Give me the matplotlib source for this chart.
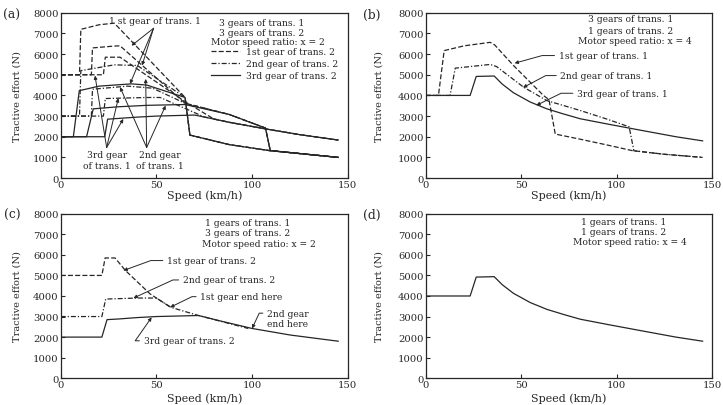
import matplotlib
matplotlib.use('Agg')
import matplotlib.pyplot as plt

plt.rcParams['font.family'] = 'DejaVu Serif'
plt.rcParams['lines.scale_dashes'] = False

INK = '#262626'
DASH = (0, (3.6, 1.6))
DASHDOT = (0, (3.6, 1.4, 0.9, 1.4))

####### PANEL (a): 3 gears of trans. 1, 3 gears of trans. 2, x = 2
# dashed = 1st gear of trans. 2
a_d1_v = [0, 9.8, 10.5, 20, 28, 65, 67.5, 88, 109, 145]
a_d1_F = [5000, 5000, 7200, 7420, 7500, 3900, 2080, 1620, 1330, 1000]
a_d2_v = [0, 16, 16.6, 28, 31, 65, 88, 107, 109.5, 145]
a_d2_F = [5000, 5000, 6300, 6390, 6400, 3620, 3080, 2420, 1330, 1000]
a_d3_v = [0, 22.3, 23.3, 31, 65, 80, 88, 107, 125, 145]
a_d3_F = [5000, 5000, 5850, 5850, 3700, 2860, 2700, 2380, 2100, 1840]
# dash-dot = 2nd gear of trans. 2
a_m1_v = [0, 9.8, 10.5, 28, 40, 65, 67.5, 88, 109, 145]
a_m1_F = [3000, 3000, 5200, 5480, 5450, 3900, 2080, 1620, 1330, 1000]
a_m2_v = [0, 16, 16.6, 35, 48, 65, 88, 107, 109.5, 145]
a_m2_F = [3000, 3000, 4300, 4450, 4350, 3620, 3080, 2420, 1330, 1000]
a_m3_v = [0, 22.3, 23.3, 45, 52, 75, 88, 107, 125, 145]
a_m3_F = [3000, 3000, 3850, 3900, 3900, 2960, 2700, 2380, 2100, 1840]
# solid = 3rd gear of trans. 2
a_s1_v = [0, 6.6, 9.7, 20, 37, 45, 65, 67.5, 88, 109, 145]
a_s1_F = [2000, 2000, 4230, 4450, 4560, 4500, 3900, 2080, 1620, 1330, 1000]
a_s2_v = [0, 13.5, 17, 30, 45, 65, 88, 107, 109.5, 145]
a_s2_F = [2000, 2000, 3350, 3450, 3520, 3560, 3080, 2420, 1330, 1000]
a_s3_v = [0, 23, 24.5, 40, 50, 70, 88, 107, 125, 145]
a_s3_F = [2000, 2000, 2850, 2950, 3000, 3050, 2700, 2380, 2100, 1840]

####### PANEL (b): 3 gears of trans. 1, 1 gear of trans. 2, x = 4
b_d_v = [0, 6.6, 9.6, 20, 33.7, 36, 45.9, 61.7, 64.5, 67.8, 80.9, 95, 108, 125, 145]
b_d_F = [4000, 4000, 6170, 6400, 6570, 6450, 5450, 3990, 3800, 2130, 1880, 1600, 1330, 1150, 1000]
b_m_v = [0, 12.7, 15.4, 33.7, 37, 51.2, 63.4, 80.9, 95, 106.5, 109, 125, 145]
b_m_F = [4000, 4000, 5320, 5500, 5400, 4400, 3750, 3270, 2850, 2480, 1320, 1150, 1000]
# single curve, also panel (d)
one_v = [0, 23.2, 26.4, 35.8, 40, 45.9, 54.7, 63.4, 72.2, 80.9, 96, 114, 131, 145]
one_F = [4000, 4000, 4920, 4940, 4550, 4130, 3680, 3350, 3100, 2870, 2600, 2290, 2000, 1800]

####### PANEL (c): 1 gear of trans. 1, 3 gears of trans. 2, x = 2
c_d_v = [0, 21.5, 23.2, 28.4, 33.7, 46.7, 57.5]
c_d_F = [5000, 5000, 5850, 5850, 5250, 4100, 3450]
c_m_v = [0, 21.5, 23.5, 40, 50, 57.5, 72, 98]
c_m_F = [3000, 3000, 3850, 3900, 3900, 3450, 3050, 2420]
c_s_v = [0, 21.5, 24.2, 30, 40, 50, 72, 85, 100, 120, 145]
c_s_F = [2000, 2000, 2850, 2880, 2950, 3000, 3050, 2750, 2420, 2100, 1800]

TXT = 6.6


def style(ax, ylab_x, xlab_y):
    ax.set_xlim(0, 150)
    ax.set_ylim(0, 8000)
    ax.set_xticks([0, 50, 100, 150])
    ax.set_yticks(range(0, 8001, 1000))
    ax.tick_params(direction='in', length=3, width=0.8, labelsize=7.2,
                   pad=1.5, colors=INK)
    for s in ax.spines.values():
        s.set_linewidth(0.9)
        s.set_color(INK)
    ax.set_xlabel('Speed (km/h)', fontsize=8, color=INK)
    ax.xaxis.set_label_coords(0.5, xlab_y)
    ax.set_ylabel('Tractive effort (N)', fontsize=7, color=INK)
    ax.yaxis.set_label_coords(ylab_x, 0.5)


def header(ax, lines):
    for x, y, s in lines:
        ax.text(x, y, s, fontsize=TXT, color=INK, va='center', ha='left')


def hook(ax, text, xytext, xy, angle, relpos=(0, 0.5)):
    ax.annotate(text, xy=xy, xytext=xytext, fontsize=TXT, color=INK,
                va='center', ha='left',
                arrowprops=dict(arrowstyle='-|>', mutation_scale=5, lw=0.7,
                                color=INK, relpos=relpos, shrinkA=1, shrinkB=0,
                                connectionstyle='angle,angleA=0,angleB=%g,rad=0' % angle))


fig = plt.figure(figsize=(7.23, 4.06), dpi=100)
ax_a = fig.add_axes([0.084, 0.559, 0.397, 0.407])
ax_b = fig.add_axes([0.589, 0.559, 0.396, 0.407])
ax_c = fig.add_axes([0.084, 0.066, 0.397, 0.405])
ax_d = fig.add_axes([0.589, 0.066, 0.396, 0.405])

for x, y, s in [(0.0166, 0.963, '(a)'), (0.5145, 0.963, '(b)'),
                (0.0166, 0.470, '(c)'), (0.5145, 0.470, '(d)')]:
    fig.text(x, y, s, fontsize=8.8, color=INK, ha='center', va='center')

# ---- (a)
kw = dict(color=INK, lw=0.9)
l1, = ax_a.plot(a_d1_v, a_d1_F, ls=DASH, label='1st gear of trans. 2', **kw)
ax_a.plot(a_d2_v, a_d2_F, ls=DASH, **kw)
ax_a.plot(a_d3_v, a_d3_F, ls=DASH, **kw)
l2, = ax_a.plot(a_m1_v, a_m1_F, ls=DASHDOT, label='2nd gear of trans. 2', **kw)
ax_a.plot(a_m2_v, a_m2_F, ls=DASHDOT, **kw)
ax_a.plot(a_m3_v, a_m3_F, ls=DASHDOT, **kw)
l3, = ax_a.plot(a_s1_v, a_s1_F, ls='-', label='3rd gear of trans. 2', **kw)
ax_a.plot(a_s2_v, a_s2_F, ls='-', **kw)
ax_a.plot(a_s3_v, a_s3_F, ls='-', **kw)
style(ax_a, -0.137, -0.07)
header(ax_a, [(82.8, 7545, '3 gears of trans. 1'),
              (82.8, 7060, '3 gears of trans. 2'),
              (78.3, 6607, 'Motor speed ratio: x = 2')])
ax_a.legend(handles=[l1, l2, l3], loc='upper left', bbox_to_anchor=(78.3, 6330),
            bbox_transform=ax_a.transData, frameon=False, fontsize=TXT,
            handlelength=3.2, handletextpad=0.65, labelspacing=0.3,
            borderpad=0, borderaxespad=0, labelcolor=INK)

arrow = dict(arrowstyle='-|>', mutation_scale=5, lw=0.7, color=INK, shrinkA=0, shrinkB=0)
ax_a.text(49, 7650, '1 st gear of trans. 1', fontsize=TXT, color=INK, ha='center', va='center')
for tgt in [(37, 6410), (42.5, 5450), (36.2, 4560)]:
    ax_a.annotate('', xy=tgt, xytext=(48.5, 7250), arrowprops=arrow)
ax_a.text(24.3, 880, '3rd gear\nof trans. 1', fontsize=TXT, color=INK, ha='center',
          va='center', linespacing=1.2)
for tgt in [(17.9, 4960), (30.1, 3864), (32.7, 2860)]:
    ax_a.annotate('', xy=tgt, xytext=(24, 1480), arrowprops=arrow)
ax_a.text(51.8, 880, '2nd gear\nof trans. 1', fontsize=TXT, color=INK, ha='center',
          va='center', linespacing=1.2)
for tgt in [(31, 4400), (44.4, 4800), (54.8, 3506)]:
    ax_a.annotate('', xy=tgt, xytext=(44.9, 1480), arrowprops=arrow)

# ---- (b)
ax_b.plot(b_d_v, b_d_F, ls=DASH, **kw)
ax_b.plot(b_m_v, b_m_F, ls=DASHDOT, **kw)
ax_b.plot(one_v, one_F, ls='-', **kw)
style(ax_b, -0.149, -0.07)
header(ax_b, [(85, 7708, '3 gears of trans. 1'),
              (85, 7143, '1 gears of trans. 2'),
              (79.7, 6658, 'Motor speed ratio: x = 4')])
hook(ax_b, '1st gear of trans. 1', (69.6, 5930), (46.5, 5560), 15.5)
hook(ax_b, '2nd gear of trans. 1', (70.5, 4961), (50.9, 4380), 27.8)
hook(ax_b, '3rd gear of trans. 1', (79.2, 4105), (57.9, 3520), 26)

# ---- (c)
ax_c.plot(c_d_v, c_d_F, ls=DASH, **kw)
ax_c.plot(c_m_v, c_m_F, ls=DASHDOT, **kw)
ax_c.plot(c_s_v, c_s_F, ls='-', **kw)
style(ax_c, -0.137, -0.085)
header(ax_c, [(75.5, 7590, '1 gears of trans. 1'),
              (75.5, 7070, '3 gears of trans. 2'),
              (73.8, 6540, 'Motor speed ratio: x = 2')])
hook(ax_c, '1st gear of trans. 2', (55.5, 5724), (32.8, 5240), 20)
hook(ax_c, '2nd gear of trans. 2', (63.8, 4780), (38, 3900), 24.6)
hook(ax_c, '1st gear end here', (72.9, 3967), (57.2, 3450), 26)
hook(ax_c, '2nd gear\nend here', (107.8, 2900), (100, 2420), 65, relpos=(0, 0.78))
hook(ax_c, '3rd gear of trans. 2', (43.3, 1820), (47.5, 2960), 55)

# ---- (d)
ax_d.plot(one_v, one_F, ls='-', **kw)
style(ax_d, -0.149, -0.085)
header(ax_d, [(81.5, 7620, '1 gears of trans. 1'),
              (81.5, 7130, '1 gears of trans. 2'),
              (77.2, 6650, 'Motor speed ratio: x = 4')])

fig.savefig('out.png', dpi=100)
